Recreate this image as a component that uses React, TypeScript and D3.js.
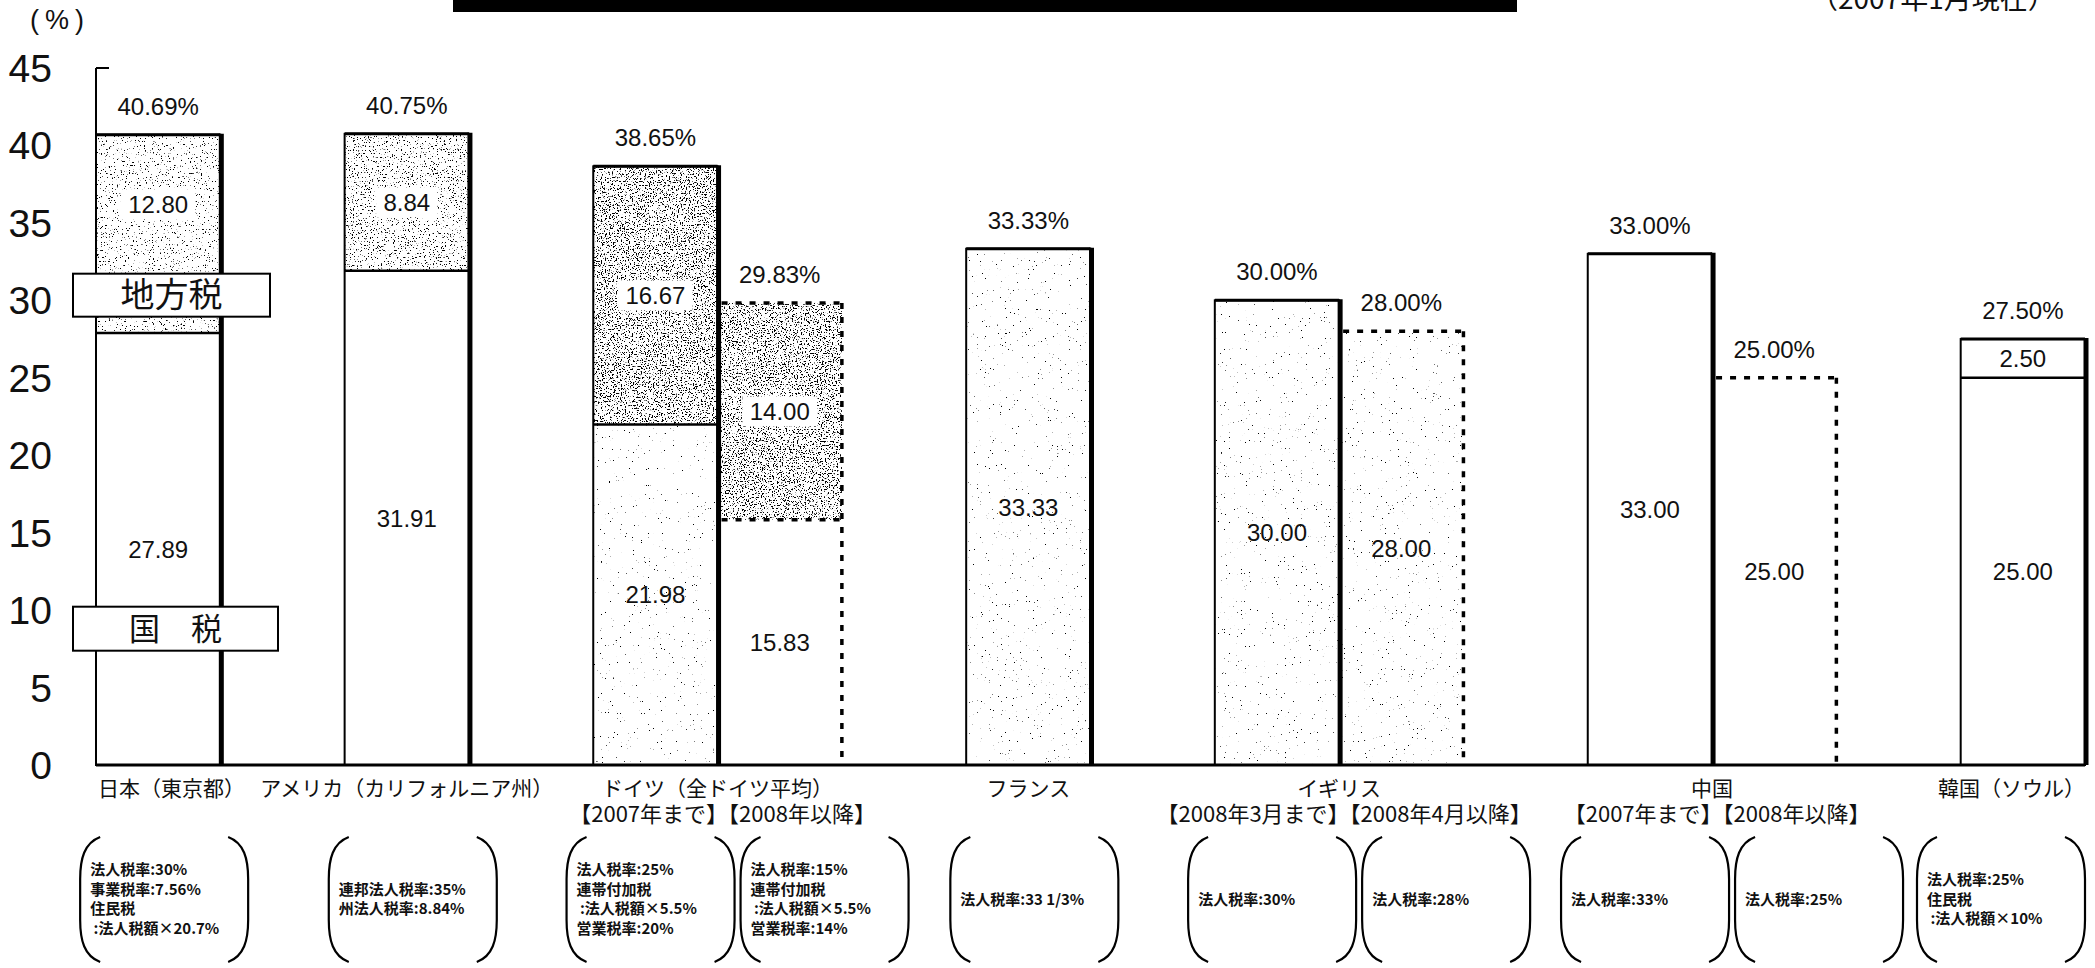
import React from "react";
import * as d3 from "d3";

const W = 2095;
const H = 968;

// ---------- data ----------
const countries = [
  "日本（東京都）",
  "アメリカ（カリフォルニア州）",
  "ドイツ（全ドイツ平均）",
  "フランス",
  "イギリス",
  "中国",
  "韓国（ソウル）",
];
const periodLabels = [
  "",
  "",
  "【2007年まで】【2008年以降】",
  "",
  "【2008年3月まで】【2008年4月以降】",
  "【2007年まで】【2008年以降】",
  "",
];
// which country each bar belongs to
const barCountry = [0, 1, 2, 2, 3, 4, 4, 5, 5, 6];
const nationalTax = [27.89, 31.91, 21.98, 15.83, 33.33, 30.0, 28.0, 33.0, 25.0, 25.0];
const localTax = [12.8, 8.84, 16.67, 14.0, 0, 0, 0, 0, 0, 2.5];
const totalRate = [40.69, 40.75, 38.65, 29.83, 33.33, 30.0, 28.0, 33.0, 25.0, 27.5];
const afterReform = [false, false, false, true, false, false, true, false, true, false];
const noteLines = [
  ["法人税率:30%", "事業税率:7.56%", "住民税", " :法人税額×20.7%"],
  ["連邦法人税率:35%", "州法人税率:8.84%"],
  ["法人税率:25%", "連帯付加税", " :法人税額×5.5%", "営業税率:20%"],
  ["法人税率:15%", "連帯付加税", " :法人税額×5.5%", "営業税率:14%"],
  ["法人税率:33 1/3%"],
  ["法人税率:30%"],
  ["法人税率:28%"],
  ["法人税率:33%"],
  ["法人税率:25%"],
  ["法人税率:25%", "住民税", " :法人税額×10%"],
];
const yTicks = [0, 5, 10, 15, 20, 25, 30, 35, 40, 45];
const legendLocal = "地方税";
const legendNational = "国　税";
const asOfLabel = "（2007年1月現在）";
const unitLabel = "(%)";

// ---------- styles ----------
const NUM_FONT = "'Liberation Sans', Arial, Helvetica, sans-serif";
const JP_FONT = "'Noto Sans CJK JP', 'Noto Sans CJK SC', sans-serif";

// stipple texture per bar: [national, local]
const textureOf: Record<number, [string | null, string | null]> = {
  0: [null, "light"],
  1: [null, "medium"],
  2: ["faint", "dense"],
  3: [null, "dense"],
  4: ["faint", null],
  5: ["faint", null],
  6: ["faint", null],
};
const stippleLevels: Record<string, number> = {
  faint: 0.25,
  light: 0.335,
  medium: 0.36,
  dense: 0.415,
};

export default function App() {
  const nSlots = barCountry.length + countries.length - 1;
  const x = d3
    .scaleBand<number>()
    .domain(d3.range(nSlots))
    .range([96, 2085])
    .paddingInner(0)
    .paddingOuter(0);
  const y = d3.scaleLinear().domain([0, 45]).range([765, 68]);
  const bw = x.bandwidth();

  const bars = nationalTax.map((n, i) => {
    const slot = i + barCountry[i];
    const x0 = x(slot) as number;
    return {
      i,
      x0,
      x1: x0 + bw,
      cx: x0 + bw / 2,
      n,
      l: localTax[i],
      t: totalRate[i],
      future: afterReform[i],
      country: barCountry[i],
    };
  });

  // legend boxes (layout)
  const legLocalBox = { x: 73, y: y(30.3) - 22, w: 197, h: 43 };
  const legNatBox = { x: 73, y: y(8.8) - 22, w: 205, h: 44 };

  // country centers
  const countryCenters = countries.map((_, c) => {
    const bs = bars.filter((b) => b.country === c);
    return d3.mean(bs, (b) => b.cx) as number;
  });

  // note boxes
  const noteW = 168;
  const noteTop = 837;
  const noteBottom = 962;
  const noteCenters = bars.map((b) => {
    const group = bars.filter((o) => o.country === b.country);
    let c: number;
    if (group.length === 1) c = b.cx + 6;
    else {
      const gc = countryCenters[b.country] + 20;
      c = group[0].i === b.i ? gc - 87 : gc + 87;
    }
    c = Math.min(c, 2085 - noteW / 2);
    return c;
  });

  const bracketPath = (L: number, R: number, T: number, B: number) => {
    const left = `M${L + 20},${T} C${L + 4},${T + 6} ${L},${T + 22} ${L},${T + 42} V${B - 42} C${L},${B - 22} ${L + 4},${B - 6} ${L + 20},${B}`;
    const right = `M${R - 20},${T} C${R - 4},${T + 6} ${R},${T + 22} ${R},${T + 42} V${B - 42} C${R},${B - 22} ${R - 4},${B - 6} ${R - 20},${B}`;
    return left + " " + right;
  };

  const catFont = 21;
  const catLabelW = (s: string) => s.length * catFont;

  return (
    <svg
      width={W}
      height={H}
      viewBox={`0 0 ${W} ${H}`}
      style={{ position: "absolute", left: 0, top: 0, display: "block", background: "#fff" }}
    >
      <defs>
        {Object.entries(stippleLevels).map(([k, t]) => (
          <filter
            key={k}
            id={`st-${k}`}
            x="0"
            y="0"
            width="1"
            height="1"
            colorInterpolationFilters="sRGB"
          >
            <feTurbulence type="fractalNoise" baseFrequency="0.75" numOctaves={2} seed={5} result="noise" />
            <feColorMatrix
              in="noise"
              type="matrix"
              values={`0 0 0 0 0  0 0 0 0 0  0 0 0 0 0  -16 0 0 0 ${(16 * t).toFixed(3)}`}
              result="dots"
            />
            <feComposite in="dots" in2="SourceGraphic" operator="in" />
          </filter>
        ))}
      </defs>
      <rect x={0} y={0} width={W} height={H} fill="#fff" />

      {/* title bar remnant and date */}
      <rect x={453} y={0} width={1064} height={12} fill="#000" />
      <text x={1810} y={9} fontFamily={JP_FONT} fontSize={28} fill="#111">
        {asOfLabel}
      </text>

      {/* unit */}
      <text x={30} y={29} fontFamily={NUM_FONT} fontSize={27} letterSpacing={6} fill="#111">
        {unitLabel}
      </text>

      {/* y axis */}
      <line x1={96} x2={96} y1={y(45)} y2={y(0)} stroke="#000" strokeWidth={2} />
      {yTicks.map((t) => (
        <g key={t}>
          <line x1={96} x2={109} y1={y(t)} y2={y(t)} stroke="#000" strokeWidth={2} />
          <text
            x={52}
            y={y(t)}
            dy="0.36em"
            textAnchor="end"
            fontFamily={NUM_FONT}
            fontSize={39}
            fill="#111"
          >
            {t}
          </text>
        </g>
      ))}

      {/* bar fills */}
      {bars.map((b) => {
        const tex = textureOf[b.i] || [null, null];
        return (
          <g key={`f${b.i}`}>
            <rect x={b.x0} y={y(b.n)} width={bw} height={y(0) - y(b.n)} fill="#fff" />
            {tex[0] && (
              <rect
                x={b.x0}
                y={y(b.n)}
                width={bw}
                height={y(0) - y(b.n)}
                fill="#000"
                filter={`url(#st-${tex[0]})`}
              />
            )}
            {b.l > 0 && (
              <rect x={b.x0} y={y(b.t)} width={bw} height={y(b.n) - y(b.t)} fill="#fff" />
            )}
            {b.l > 0 && tex[1] && (
              <rect
                x={b.x0}
                y={y(b.t)}
                width={bw}
                height={y(b.n) - y(b.t)}
                fill="#000"
                filter={`url(#st-${tex[1]})`}
              />
            )}
          </g>
        );
      })}

      {/* bar outlines */}
      {bars.map((b) =>
        b.future ? (
          <g key={`o${b.i}`} stroke="#000" strokeWidth={3.5} strokeDasharray="6 8" fill="none">
            <line x1={b.x0 + 4} x2={b.x1} y1={y(b.t)} y2={y(b.t)} />
            <line x1={b.x1} x2={b.x1} y1={y(b.t)} y2={y(0)} />
            {b.l > 0 && <line x1={b.x0 + 4} x2={b.x1} y1={y(b.n)} y2={y(b.n)} />}
          </g>
        ) : (
          <g key={`o${b.i}`} stroke="#000" fill="none">
            <rect x={b.x0} y={y(b.t)} width={bw} height={y(0) - y(b.t)} strokeWidth={2} />
            <line x1={b.x0} x2={b.x1} y1={y(b.t)} y2={y(b.t)} strokeWidth={3} />
            <line x1={b.x1 + 1} x2={b.x1 + 1} y1={y(b.t) - 1} y2={y(0)} strokeWidth={5} />
            {b.l > 0 && <line x1={b.x0} x2={b.x1} y1={y(b.n)} y2={y(b.n)} strokeWidth={2.5} />}
          </g>
        )
      )}

      {/* baseline */}
      <line x1={96} x2={2085} y1={y(0)} y2={y(0)} stroke="#000" strokeWidth={3} />

      {/* value labels */}
      {bars.map((b) => {
        const tex = textureOf[b.i] || [null, null];
        const natY = (y(0) + y(b.n)) / 2;
        const locTop = y(b.t);
        let locBot = y(b.n);
        if (b.i === 0 && locBot > legLocalBox.y) locBot = legLocalBox.y;
        const locY = (locTop + locBot) / 2;
        const locStr = b.l.toFixed(2);
        const lw = locStr.length * 0.556 * 24 + 8;
        return (
          <g key={`v${b.i}`} fontFamily={NUM_FONT} fontSize={24} fill="#111" textAnchor="middle">
            <text x={b.cx} y={natY} dy="0.36em">
              {b.n.toFixed(2)}
            </text>
            {b.l > 0 && tex[1] && (
              <rect x={b.cx - lw / 2} y={locY - 15} width={lw} height={30} fill="#fff" />
            )}
            {b.l > 0 && (
              <text x={b.cx} y={locY} dy="0.36em">
                {locStr}
              </text>
            )}
            <text x={b.cx} y={y(b.t) - 20}>
              {b.t.toFixed(2)}%
            </text>
          </g>
        );
      })}

      {/* legend boxes */}
      <rect
        x={legLocalBox.x}
        y={legLocalBox.y}
        width={legLocalBox.w}
        height={legLocalBox.h}
        fill="#fff"
        stroke="#000"
        strokeWidth={2}
      />
      <text
        x={legLocalBox.x + legLocalBox.w / 2}
        y={legLocalBox.y + legLocalBox.h / 2}
        dy="0.36em"
        textAnchor="middle"
        fontFamily={JP_FONT}
        fontSize={34}
        fill="#111"
      >
        {legendLocal}
      </text>
      <rect
        x={legNatBox.x}
        y={legNatBox.y}
        width={legNatBox.w}
        height={legNatBox.h}
        fill="#fff"
        stroke="#000"
        strokeWidth={2}
      />
      <text
        x={legNatBox.x + legNatBox.w / 2}
        y={legNatBox.y + legNatBox.h / 2}
        dy="0.36em"
        textAnchor="middle"
        fontFamily={JP_FONT}
        fontSize={31}
        fill="#111"
      >
        {legendNational}
      </text>

      {/* category labels */}
      {countries.map((c, k) => {
        const w1 = catLabelW(c);
        let cx = countryCenters[k];
        cx = Math.max(cx, 98 + w1 / 2);
        cx = Math.min(cx, W - 10 - w1 / 2);
        return (
          <g key={`c${k}`} fontFamily={JP_FONT} fill="#111" textAnchor="middle">
            <text x={cx} y={796} fontSize={catFont}>
              {c}
            </text>
            {periodLabels[k] && (
              <text x={countryCenters[k] + 5} y={822} fontSize={22}>
                {periodLabels[k]}
              </text>
            )}
          </g>
        );
      })}

      {/* note brackets */}
      {bars.map((b) => {
        const c = noteCenters[b.i];
        const L = c - noteW / 2;
        const R = c + noteW / 2;
        const lines = noteLines[b.i];
        const lh = 19.5;
        const startY = (noteTop + noteBottom) / 2 - ((lines.length - 1) * lh) / 2 + 5;
        return (
          <g key={`n${b.i}`}>
            <path d={bracketPath(L, R, noteTop, noteBottom)} fill="none" stroke="#000" strokeWidth={2.2} />
            {lines.map((s, j) => (
              <text
                key={j}
                x={L + 10}
                y={startY + j * lh}
                fontFamily={JP_FONT}
                fontSize={15}
                fontWeight={700}
                fill="#111"
                style={{ whiteSpace: "pre" }}
              >
                {s}
              </text>
            ))}
          </g>
        );
      })}
    </svg>
  );
}
